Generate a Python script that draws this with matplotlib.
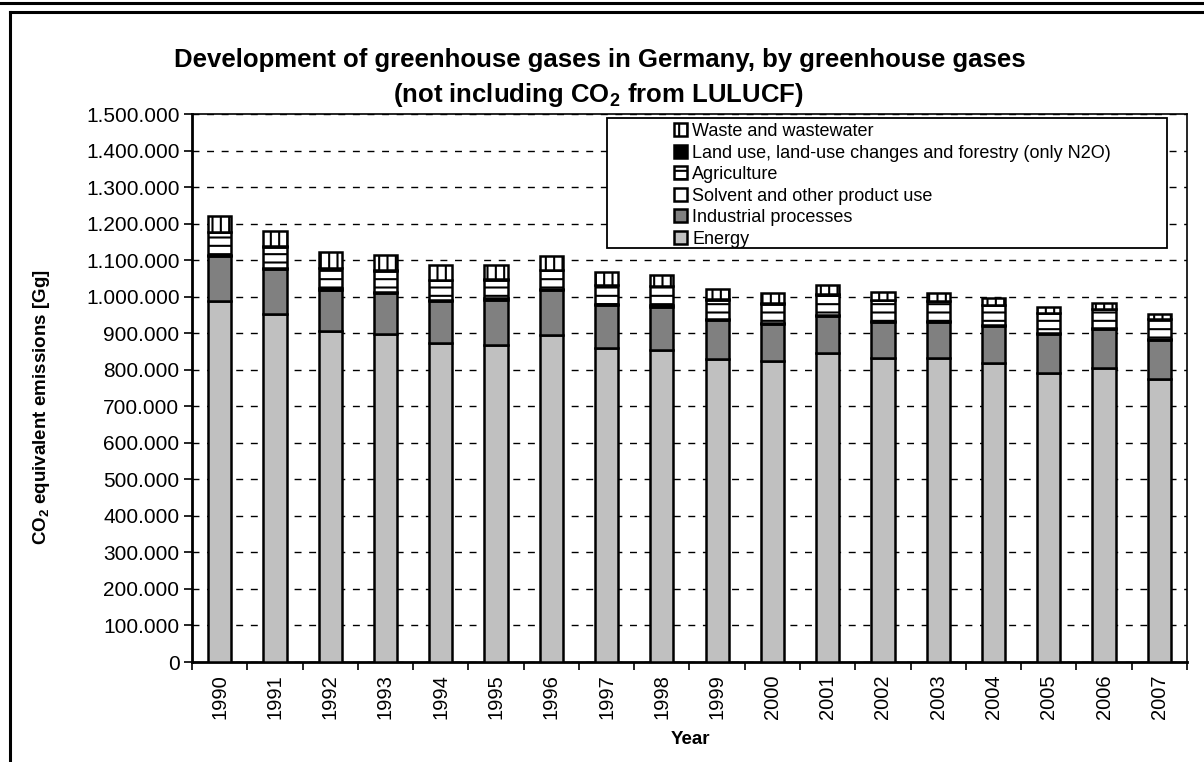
import matplotlib.pyplot as plt
from matplotlib.lines import Line2D
from matplotlib.patches import Rectangle
from matplotlib.ticker import FuncFormatter, MultipleLocator
import numpy as np

plt.rcParams['font.family'] = ['Liberation Sans', 'DejaVu Sans']
plt.rcParams['mathtext.fontset'] = 'custom'
plt.rcParams['mathtext.rm'] = 'Liberation Sans'
plt.rcParams['mathtext.bf'] = 'Liberation Sans:bold'
plt.rcParams['hatch.linewidth'] = 1.5
plt.rcParams['hatch.color'] = 'black'

# emissions in Gg CO2 equivalent
years = [str(y) for y in range(1990, 2008)]
energy = [987000, 953000, 905000, 899000, 873000, 869000, 896000, 859000, 853000,
          829000, 825000, 845000, 832000, 831000, 818000, 791000, 805000, 776000]
industrial = [123000, 123000, 114000, 111000, 114000, 123000, 123000, 119000, 120000,
              107000, 100000, 102000, 99000, 99000, 102000, 107000, 106000, 106000]
solvent = [4000, 3800, 3600, 3500, 3400, 3300, 3200, 3100, 3000,
           2900, 2800, 2800, 2700, 2600, 2500, 2400, 2300, 2200]
agriculture = [62100, 57300, 55500, 57600, 54700, 50800, 50900, 51000, 52100,
               53200, 53300, 55300, 56400, 55500, 53600, 54700, 52800, 53900]
lulucf = [900, 900, 900, 900, 900, 900, 900, 900, 900,
          900, 900, 900, 900, 900, 900, 900, 900, 900]
waste = [45000, 43000, 43000, 41000, 41000, 41000, 38000, 34000, 30000,
         27000, 27000, 25000, 21000, 20000, 18000, 17000, 15000, 14000]

series = [
    ('Energy', energy, '#c0c0c0', None),
    ('Industrial processes', industrial, '#808080', None),
    ('Solvent and other product use', solvent, 'white', None),
    ('Agriculture', agriculture, 'white', '--'),
    ('Land use, land-use changes and forestry (only N2O)', lulucf, 'black', None),
    ('Waste and wastewater', waste, 'white', '||'),
]

fig = plt.figure(figsize=(12.04, 7.62), dpi=100)
ax = fig.add_axes([192 / 1204, 1 - 662 / 762, 995 / 1204, 548 / 762])

x = np.arange(len(years))
bottom = np.zeros(len(years))
bars = []
for name, vals, color, hatch in series:
    b = ax.bar(x, vals, 0.42, bottom=bottom, color=color, edgecolor='black',
               linewidth=1.8, hatch=hatch, label=name, zorder=3)
    bars.append(b)
    bottom += np.array(vals)

ax.set_xlim(-0.5, len(years) - 0.5)
ax.set_ylim(0, 1500000)
ax.yaxis.set_major_locator(MultipleLocator(100000))
ax.yaxis.set_major_formatter(FuncFormatter(lambda v, p: f'{v:,.0f}'.replace(',', '.')))
ax.yaxis.grid(True, color='black', linewidth=1.0, linestyle=(0, (5, 5.5)), zorder=0)

ax.set_xticks(x)
ax.set_xticklabels(years, rotation=90)
ax.set_xticks(np.arange(-0.5, len(years)), minor=True)
ax.tick_params(axis='x', which='major', length=0, pad=9, labelsize=14.5)
ax.tick_params(axis='x', which='minor', length=6, width=1.2, direction='out')
ax.tick_params(axis='y', length=6, width=1.2, direction='out', labelsize=15, pad=3)

for s in ['left', 'bottom']:
    ax.spines[s].set_linewidth(2)
for s in ['top', 'right']:
    ax.spines[s].set_linewidth(1.2)

# legend box
box_l = (607 - 192) / 995
box_r = (1167 - 192) / 995
box_t = (662 - 118) / 548
box_b = (662 - 248) / 548
ax.add_patch(Rectangle((box_l, box_b), box_r - box_l, box_t - box_b, transform=ax.transAxes,
                       facecolor='white', edgecolor='black', linewidth=1.3, zorder=4))
leg = ax.legend(bars[::-1], [s[0] for s in series][::-1], loc='upper left',
                bbox_to_anchor=((674 - 192) / 995, (662 - 123) / 548),
                frameon=False, fontsize=13, handlelength=0.72, handleheight=0.72,
                handletextpad=0.3, labelspacing=0.25, borderpad=0, borderaxespad=0)
leg.set_zorder(5)

fig.text(600 / 1204, 1 - 60 / 762,
         'Development of greenhouse gases in Germany, by greenhouse gases',
         ha='center', va='center', fontsize=18.5, fontweight='bold')
fig.text(598 / 1204, 1 - 95 / 762, r'(not including CO$_\mathbf{2}$ from LULUCF)',
         ha='center', va='center', fontsize=18.5, fontweight='bold')
fig.text(42 / 1204, 1 - 407 / 762, r'CO$_\mathbf{2}$ equivalent emissions [Gg]',
         ha='center', va='center', rotation=90, fontsize=13.5, fontweight='bold')
fig.text(690 / 1204, 1 - 740 / 762, 'Year', ha='center', va='center',
         fontsize=13.5, fontweight='bold')

# outer frame lines
fig.add_artist(Line2D([0, 1], [1 - 3 / 762, 1 - 3 / 762], color='black', linewidth=2.2))
fig.add_artist(Line2D([10 / 1204, 1], [1 - 12 / 762, 1 - 12 / 762], color='black', linewidth=2.2))
fig.add_artist(Line2D([10 / 1204, 10 / 1204], [0, 1 - 12 / 762], color='black', linewidth=2.2))

fig.savefig('out.png', dpi=100)
